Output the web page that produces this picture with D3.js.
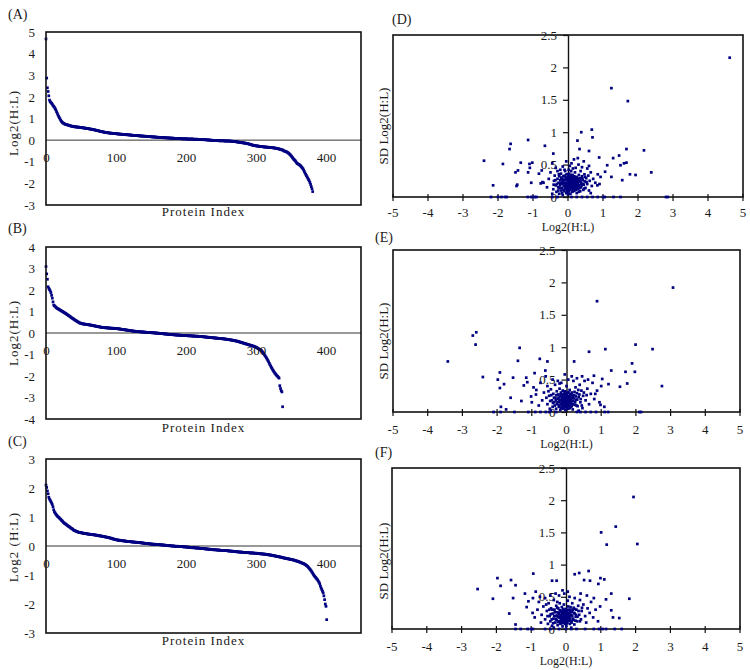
<!DOCTYPE html>
<html><head><meta charset="utf-8">
<script src="https://cdn.jsdelivr.net/npm/d3@7/dist/d3.min.js"></script>
<style>
body{margin:0;background:#fff}
svg{display:block}
</style>
</head><body>
<svg id="chart" width="750" height="670"></svg>
<script>
// ---------------- DATA ----------------
const indexTicks = [0, 100, 200, 300, 400];
const ticksA = [5, 4, 3, 2, 1, 0, -1, -2, -3];
const ticksB = [4, 3, 2, 1, 0, -1, -2, -3, -4];
const ticksC = [3, 2, 1, 0, -1, -2, -3];
const ratioTicks = [-5, -4, -3, -2, -1, 0, 1, 2, 3, 4, 5];
const sdTicks = [0, 0.5, 1, 1.5, 2, 2.5];

const seriesA = [
4.68,2.87,2.42,2.25,2.05,1.85,1.78,1.74,1.70,1.66,
1.60,1.56,1.52,1.46,1.40,1.32,1.25,1.17,1.10,1.04,
0.98,0.92,0.87,0.83,0.80,0.78,0.76,0.74,0.73,0.72,
0.71,0.70,0.69,0.68,0.67,0.66,0.65,0.64,0.64,0.63,
0.62,0.62,0.61,0.61,0.61,0.60,0.60,0.60,0.59,0.59,
0.58,0.58,0.57,0.57,0.56,0.56,0.55,0.55,0.54,0.54,
0.53,0.53,0.52,0.51,0.51,0.50,0.50,0.49,0.48,0.48,
0.47,0.46,0.45,0.45,0.44,0.43,0.42,0.41,0.40,0.40,
0.39,0.38,0.38,0.37,0.36,0.36,0.35,0.35,0.34,0.34,
0.33,0.33,0.32,0.32,0.32,0.31,0.31,0.31,0.30,0.30,
0.30,0.29,0.29,0.29,0.28,0.28,0.28,0.27,0.27,0.27,
0.26,0.26,0.26,0.26,0.25,0.25,0.25,0.25,0.24,0.24,
0.24,0.23,0.23,0.23,0.22,0.22,0.22,0.22,0.21,0.21,
0.21,0.21,0.20,0.20,0.20,0.19,0.19,0.19,0.19,0.18,
0.18,0.18,0.18,0.17,0.17,0.17,0.17,0.16,0.16,0.16,
0.16,0.15,0.15,0.15,0.15,0.14,0.14,0.14,0.14,0.13,
0.13,0.13,0.13,0.12,0.12,0.12,0.12,0.12,0.11,0.11,
0.11,0.11,0.11,0.10,0.10,0.10,0.10,0.10,0.09,0.09,
0.09,0.09,0.09,0.08,0.08,0.08,0.08,0.08,0.07,0.07,
0.07,0.07,0.07,0.07,0.06,0.06,0.06,0.06,0.06,0.06,
0.06,0.06,0.05,0.05,0.05,0.05,0.05,0.05,0.05,0.05,
0.05,0.04,0.04,0.04,0.04,0.04,0.04,0.03,0.03,0.03,
0.03,0.03,0.03,0.02,0.02,0.02,0.02,0.02,0.02,0.01,
0.01,0.01,0.01,0.00,0.00,0.00,0.00,-0.01,-0.01,-0.01,
-0.01,-0.01,-0.02,-0.02,-0.02,-0.02,-0.02,-0.03,-0.03,-0.03,
-0.03,-0.03,-0.03,-0.03,-0.03,-0.04,-0.04,-0.04,-0.04,-0.04,
-0.04,-0.04,-0.04,-0.05,-0.05,-0.05,-0.05,-0.06,-0.06,-0.06,
-0.07,-0.07,-0.08,-0.08,-0.09,-0.09,-0.10,-0.10,-0.11,-0.11,
-0.12,-0.12,-0.13,-0.13,-0.14,-0.14,-0.15,-0.15,-0.16,-0.17,
-0.18,-0.19,-0.20,-0.21,-0.22,-0.23,-0.24,-0.24,-0.25,-0.26,
-0.26,-0.27,-0.27,-0.28,-0.28,-0.29,-0.29,-0.30,-0.30,-0.30,
-0.31,-0.31,-0.32,-0.32,-0.32,-0.32,-0.33,-0.33,-0.33,-0.34,
-0.34,-0.34,-0.35,-0.35,-0.35,-0.36,-0.36,-0.37,-0.37,-0.38,
-0.39,-0.39,-0.40,-0.41,-0.42,-0.43,-0.44,-0.45,-0.46,-0.47,
-0.50,-0.51,-0.52,-0.53,-0.55,-0.57,-0.59,-0.62,-0.65,-0.68,
-0.72,-0.76,-0.80,-0.85,-0.89,-0.92,-0.95,-1.00,-1.05,-1.08,
-1.10,-1.12,-1.14,-1.17,-1.20,-1.24,-1.28,-1.32,-1.38,-1.45,
-1.52,-1.58,-1.64,-1.70,-1.76,-1.82,-1.88,-1.96,-2.05,-2.15,-2.25,-2.38
];

const seriesB = [
3.09,2.75,2.50,2.15,2.08,2.02,1.96,1.88,1.75,1.62,
1.45,1.30,1.27,1.24,1.20,1.17,1.15,1.13,1.11,1.09,
1.07,1.05,1.03,1.01,0.99,0.97,0.95,0.93,0.91,0.89,
0.86,0.84,0.82,0.80,0.77,0.75,0.72,0.70,0.68,0.66,
0.63,0.61,0.59,0.57,0.55,0.53,0.51,0.49,0.47,0.46,
0.45,0.44,0.43,0.42,0.42,0.41,0.41,0.40,0.40,0.39,
0.39,0.38,0.38,0.37,0.37,0.36,0.35,0.35,0.34,0.33,
0.33,0.32,0.31,0.31,0.30,0.29,0.29,0.28,0.27,0.27,
0.26,0.26,0.25,0.25,0.25,0.24,0.24,0.24,0.24,0.23,
0.23,0.23,0.23,0.22,0.22,0.22,0.22,0.22,0.21,0.21,
0.21,0.20,0.20,0.20,0.19,0.19,0.18,0.18,0.17,0.17,
0.16,0.16,0.15,0.15,0.14,0.14,0.13,0.13,0.12,0.12,
0.11,0.11,0.10,0.10,0.09,0.09,0.08,0.08,0.08,0.07,
0.07,0.07,0.06,0.06,0.06,0.05,0.05,0.05,0.05,0.04,
0.04,0.04,0.04,0.03,0.03,0.03,0.03,0.02,0.02,0.02,
0.02,0.01,0.01,0.01,0.01,0.00,0.00,0.00,0.00,-0.01,
-0.01,-0.01,-0.02,-0.02,-0.02,-0.03,-0.03,-0.03,-0.04,-0.04,
-0.04,-0.05,-0.05,-0.05,-0.06,-0.06,-0.06,-0.07,-0.07,-0.07,
-0.07,-0.08,-0.08,-0.08,-0.09,-0.09,-0.09,-0.09,-0.10,-0.10,
-0.10,-0.10,-0.10,-0.11,-0.11,-0.11,-0.11,-0.11,-0.12,-0.12,
-0.12,-0.12,-0.12,-0.13,-0.13,-0.13,-0.13,-0.13,-0.14,-0.14,
-0.14,-0.14,-0.14,-0.15,-0.15,-0.15,-0.15,-0.15,-0.16,-0.16,
-0.16,-0.16,-0.17,-0.17,-0.17,-0.18,-0.18,-0.18,-0.19,-0.19,
-0.19,-0.20,-0.20,-0.20,-0.21,-0.21,-0.21,-0.22,-0.22,-0.22,
-0.23,-0.23,-0.23,-0.24,-0.24,-0.24,-0.25,-0.25,-0.25,-0.26,
-0.26,-0.26,-0.27,-0.27,-0.27,-0.28,-0.28,-0.29,-0.29,-0.30,
-0.30,-0.31,-0.31,-0.32,-0.32,-0.33,-0.33,-0.34,-0.35,-0.35,
-0.36,-0.37,-0.37,-0.38,-0.39,-0.40,-0.41,-0.42,-0.43,-0.44,
-0.45,-0.46,-0.47,-0.48,-0.49,-0.50,-0.51,-0.52,-0.53,-0.54,
-0.55,-0.56,-0.57,-0.58,-0.59,-0.60,-0.61,-0.62,-0.63,-0.65,
-0.66,-0.68,-0.70,-0.72,-0.74,-0.76,-0.78,-0.80,-0.83,-0.87,
-0.91,-0.96,-1.01,-1.06,-1.11,-1.16,-1.22,-1.28,-1.34,-1.41,
-1.48,-1.54,-1.60,-1.66,-1.72,-1.77,-1.82,-1.87,-1.91,-1.95,
-1.99,-2.02,-2.06,-2.10,-2.45,-2.58,-2.68,-2.74,-3.43
];

const seriesC = [
2.10,2.02,1.90,1.80,1.68,1.62,1.58,1.53,1.48,1.43,
1.35,1.25,1.18,1.14,1.10,1.07,1.04,1.01,0.99,0.97,
0.94,0.92,0.89,0.87,0.84,0.81,0.79,0.77,0.76,0.74,
0.72,0.70,0.68,0.67,0.65,0.63,0.61,0.60,0.58,0.56,
0.54,0.53,0.52,0.51,0.50,0.49,0.48,0.47,0.47,0.46,
0.46,0.45,0.45,0.44,0.44,0.43,0.43,0.43,0.42,0.42,
0.41,0.41,0.41,0.40,0.40,0.40,0.39,0.39,0.39,0.38,
0.38,0.38,0.37,0.37,0.36,0.36,0.35,0.35,0.35,0.34,
0.34,0.33,0.33,0.32,0.32,0.31,0.31,0.30,0.30,0.29,
0.29,0.28,0.27,0.27,0.26,0.25,0.24,0.24,0.23,0.22,
0.22,0.21,0.21,0.20,0.20,0.20,0.19,0.19,0.19,0.18,
0.18,0.18,0.17,0.17,0.17,0.16,0.16,0.16,0.15,0.15,
0.15,0.15,0.14,0.14,0.14,0.14,0.13,0.13,0.13,0.13,
0.12,0.12,0.12,0.12,0.12,0.11,0.11,0.11,0.10,0.10,
0.10,0.09,0.09,0.09,0.08,0.08,0.08,0.08,0.07,0.07,
0.07,0.07,0.06,0.06,0.06,0.06,0.06,0.05,0.05,0.05,
0.05,0.05,0.05,0.04,0.04,0.04,0.04,0.03,0.03,0.03,
0.03,0.02,0.02,0.02,0.02,0.01,0.01,0.01,0.01,0.00,
0.00,0.00,0.00,0.00,-0.01,-0.01,-0.01,-0.01,-0.01,-0.01,
-0.02,-0.02,-0.02,-0.02,-0.02,-0.02,-0.03,-0.03,-0.03,-0.03,
-0.03,-0.04,-0.04,-0.04,-0.04,-0.05,-0.05,-0.05,-0.05,-0.06,
-0.06,-0.06,-0.06,-0.06,-0.07,-0.07,-0.07,-0.07,-0.07,-0.08,
-0.08,-0.08,-0.08,-0.09,-0.09,-0.09,-0.09,-0.10,-0.10,-0.10,
-0.10,-0.11,-0.11,-0.11,-0.11,-0.12,-0.12,-0.12,-0.12,-0.13,
-0.13,-0.13,-0.13,-0.13,-0.14,-0.14,-0.14,-0.14,-0.14,-0.15,
-0.15,-0.15,-0.15,-0.15,-0.15,-0.16,-0.16,-0.16,-0.16,-0.16,
-0.17,-0.17,-0.17,-0.17,-0.18,-0.18,-0.18,-0.18,-0.19,-0.19,
-0.19,-0.19,-0.20,-0.20,-0.20,-0.20,-0.21,-0.21,-0.21,-0.21,
-0.21,-0.22,-0.22,-0.22,-0.22,-0.22,-0.23,-0.23,-0.23,-0.23,
-0.23,-0.24,-0.24,-0.24,-0.24,-0.24,-0.24,-0.25,-0.25,-0.25,
-0.25,-0.25,-0.26,-0.26,-0.26,-0.26,-0.27,-0.27,-0.27,-0.27,
-0.28,-0.28,-0.28,-0.28,-0.29,-0.29,-0.29,-0.30,-0.30,-0.31,
-0.31,-0.31,-0.32,-0.32,-0.33,-0.33,-0.34,-0.34,-0.35,-0.35,
-0.36,-0.36,-0.37,-0.37,-0.38,-0.38,-0.39,-0.39,-0.40,-0.41,
-0.41,-0.42,-0.42,-0.43,-0.43,-0.44,-0.44,-0.45,-0.45,-0.46,
-0.46,-0.47,-0.47,-0.48,-0.49,-0.49,-0.50,-0.51,-0.52,-0.52,
-0.53,-0.54,-0.55,-0.56,-0.57,-0.58,-0.59,-0.60,-0.61,-0.62,
-0.64,-0.65,-0.67,-0.69,-0.71,-0.74,-0.77,-0.80,-0.83,-0.86,
-0.90,-0.94,-0.98,-1.02,-1.05,-1.08,-1.11,-1.14,-1.17,-1.21,
-1.25,-1.30,-1.38,-1.45,-1.50,-1.56,-1.62,-1.72,-1.85,-2.00,-2.08,-2.54
];

// [Log2(H:L), SD Log2(H:L)]
const pointsD = [
[4.62,2.15],[1.24,1.68],[1.71,1.48],[0.68,1.04],[0.38,1.00],[0.70,0.92],[0.27,0.87],[-1.14,0.88],
[-1.64,0.82],[-1.67,0.74],[-0.66,0.79],[-0.42,0.67],[0.33,0.74],[0.60,0.71],[1.67,0.74],[2.17,0.72],
[0.89,0.61],[1.29,0.60],[1.46,0.64],[1.50,0.49],[1.67,0.53],[1.60,0.52],[1.12,0.49],[-2.40,0.56],
[-1.86,0.51],[-1.35,0.53],[-1.02,0.53],[-1.10,0.51],[-1.50,0.38],[-1.43,0.41],[-1.14,0.38],[-1.09,0.45],
[-0.75,0.41],[-0.83,0.36],[-2.14,0.18],[-1.45,0.19],[-1.47,0.17],[-1.05,0.22],[-0.78,0.21],[-0.73,0.23],
[1.77,0.35],[1.93,0.34],[2.38,0.38],[1.55,0.26],[1.24,0.31],[1.06,0.39],[0.93,0.31],[0.84,0.18],[0.65,0.06],
[-2.2,0],[-2.0,0],[-1.9,0],[-1.8,0],[-1.75,0],[-1.15,0],[-1.05,0],[-1.0,0],[-0.95,0],[-0.9,0],[-0.45,0],[-0.3,0],
[0.1,0],[0.25,0],[0.4,0],[0.55,0],[0.7,0],[0.85,0],[1.0,0],[1.05,0],[1.3,0],[1.5,0],[2.8,0],[2.85,0],
[-0.45,0.05],[-0.42,0.12],[-0.40,0.25],[-0.38,0.33],[-0.35,0.18],[-0.33,0.08],[-0.30,0.28],[-0.30,0.40],
[-0.28,0.15],[-0.27,0.22],[-0.25,0.05],[-0.25,0.32],[-0.23,0.18],[-0.22,0.26],[-0.20,0.10],[-0.20,0.36],
[-0.18,0.20],[-0.17,0.14],[-0.16,0.28],[-0.15,0.03],[-0.14,0.23],[-0.13,0.32],[-0.12,0.17],[-0.11,0.09],
[-0.10,0.26],[-0.10,0.42],[-0.09,0.20],[-0.08,0.13],[-0.07,0.30],[-0.06,0.22],[-0.05,0.06],[-0.05,0.17],
[-0.04,0.35],[-0.03,0.26],[-0.02,0.12],[-0.02,0.20],[-0.01,0.30],[0.00,0.16],[0.00,0.24],[0.01,0.08],
[0.02,0.19],[0.02,0.28],[0.03,0.36],[0.04,0.14],[0.04,0.22],[0.05,0.11],[0.05,0.26],[0.06,0.18],
[0.06,0.31],[0.07,0.05],[0.07,0.21],[0.08,0.15],[0.08,0.27],[0.09,0.24],[0.09,0.40],[0.10,0.12],
[0.10,0.19],[0.11,0.29],[0.12,0.22],[0.12,0.08],[0.13,0.17],[0.13,0.34],[0.14,0.25],[0.15,0.13],
[0.15,0.20],[0.16,0.30],[0.17,0.23],[0.18,0.10],[0.18,0.17],[0.19,0.27],[0.20,0.21],[0.20,0.38],
[0.21,0.14],[0.22,0.25],[0.23,0.19],[0.24,0.31],[0.25,0.06],[0.25,0.22],[0.26,0.16],[0.27,0.28],
[0.28,0.20],[0.29,0.12],[0.30,0.25],[0.31,0.34],[0.32,0.18],[0.33,0.23],[0.35,0.09],[0.35,0.29],
[0.37,0.15],[0.38,0.21],[0.40,0.32],[0.42,0.26],[0.44,0.11],[0.45,0.19],[0.47,0.35],[0.48,0.24],
[0.50,0.14],[0.52,0.29],[0.55,0.20],[0.58,0.33],[0.60,0.10],[0.62,0.25],[0.65,0.38],[0.68,0.17],
[0.72,0.28],[0.78,0.22],[0.05,0.48],[0.10,0.52],[-0.05,0.55],[0.22,0.45],[0.30,0.50],[0.40,0.46],
[-0.15,0.47],[0.55,0.44],[-0.35,0.45],[0.17,0.58],[0.28,0.60],[0.45,0.55],[0.60,0.48],[-0.55,0.28],
[-0.60,0.15],[-0.50,0.38],[0.85,0.35],[0.90,0.20],[-0.70,0.22],[-0.45,0.52],
[-0.32,0.20],[-0.28,0.10],[-0.26,0.35],[-0.24,0.14],[-0.21,0.22],[-0.19,0.30],[-0.17,0.06],[-0.15,0.25],
[-0.13,0.11],[-0.11,0.21],[-0.09,0.33],[-0.07,0.16],[-0.06,0.27],[-0.04,0.09],[-0.03,0.19],[-0.01,0.14],
[0.01,0.33],[0.02,0.24],[0.03,0.10],[0.04,0.29],[0.06,0.13],[0.07,0.25],[0.08,0.34],[0.09,0.17],
[0.10,0.23],[0.11,0.15],[0.12,0.31],[0.13,0.26],[0.14,0.19],[0.15,0.09],[0.16,0.24],[0.17,0.16],
[0.18,0.32],[0.19,0.21],[0.21,0.27],[0.22,0.11],[0.23,0.23],[0.24,0.17],[0.26,0.30],[0.27,0.13],
[0.28,0.24],[0.30,0.17],[0.31,0.08],[0.33,0.28],[0.34,0.14],[0.36,0.24],[0.39,0.18],[0.41,0.29],
[0.43,0.20],[0.46,0.13],[0.49,0.31],[0.53,0.23],[-0.36,0.26],[-0.41,0.19],[0.00,0.04],[-0.08,0.40],
[0.14,0.44],[0.36,0.40],[-0.22,0.42],[0.02,0.42]
];

const pointsE = [
[3.07,1.92],[0.88,1.71],[1.99,1.04],[2.48,0.97],[1.12,0.97],[0.65,0.93],[-2.70,1.18],[-2.60,1.23],
[-2.62,1.04],[-3.42,0.78],[-1.35,0.99],[-1.40,0.79],[-0.77,0.82],[-0.55,0.78],[0.22,0.78],[1.89,0.75],
[1.97,0.62],[1.70,0.62],[1.29,0.64],[-2.41,0.54],[-1.92,0.61],[-1.98,0.50],[-1.80,0.43],[-1.54,0.53],
[-1.16,0.53],[-1.13,0.46],[-1.23,0.41],[-1.92,0.37],[-1.61,0.22],[-1.30,0.17],[-0.92,0.60],[-0.61,0.64],
[0.79,0.56],[1.03,0.51],[1.21,0.43],[1.75,0.44],[1.54,0.39],[2.75,0.40],[-1.89,0.08],[-1.74,0.04],
[-1.02,0.24],[-0.87,0.34],[0.83,0.28],[1.09,0.08],[0.98,0.11],
[-2.1,0],[-1.9,0],[-1.5,0],[-1.1,0],[-0.9,0],[-0.75,0],[-0.6,0],[-0.5,0],[-0.3,0],[0.3,0],[0.4,0],
[0.55,0],[0.7,0],[0.85,0],[1.1,0],[1.2,0],[2.1,0],[2.15,0],
[-0.55,0.12],[-0.50,0.25],[-0.48,0.05],[-0.45,0.35],[-0.42,0.18],[-0.40,0.08],[-0.38,0.28],[-0.35,0.15],
[-0.33,0.42],[-0.32,0.22],[-0.30,0.05],[-0.28,0.32],[-0.27,0.12],[-0.25,0.20],[-0.24,0.27],[-0.22,0.08],
[-0.21,0.16],[-0.20,0.36],[-0.19,0.24],[-0.18,0.03],[-0.17,0.13],[-0.16,0.30],[-0.15,0.19],[-0.14,0.09],
[-0.13,0.25],[-0.12,0.15],[-0.11,0.33],[-0.10,0.05],[-0.10,0.21],[-0.09,0.12],[-0.08,0.28],[-0.07,0.17],
[-0.06,0.08],[-0.06,0.24],[-0.05,0.14],[-0.04,0.32],[-0.03,0.20],[-0.03,0.03],[-0.02,0.11],[-0.01,0.26],
[0.00,0.17],[0.00,0.07],[0.01,0.22],[0.02,0.13],[0.03,0.30],[0.04,0.19],[0.05,0.05],[0.05,0.25],
[0.06,0.15],[0.07,0.10],[0.08,0.21],[0.09,0.34],[0.10,0.16],[0.11,0.27],[0.12,0.08],[0.13,0.20],
[0.14,0.13],[0.15,0.30],[0.17,0.22],[0.18,0.04],[0.20,0.17],[0.22,0.26],[0.24,0.11],[0.26,0.38],
[0.28,0.19],[0.30,0.29],[0.32,0.09],[0.35,0.23],[0.38,0.42],[0.40,0.15],[0.43,0.33],[0.46,0.06],
[0.48,0.25],[0.52,0.48],[0.55,0.18],[0.60,0.36],[0.65,0.12],[0.70,0.28],[0.75,0.45],[0.80,0.20],
[0.88,0.33],[0.95,0.15],[1.00,0.40],[-0.65,0.30],[-0.70,0.18],[-0.75,0.45],[-0.80,0.10],[-0.88,0.27],
[-0.95,0.38],[-0.15,0.45],[0.05,0.50],[-0.05,0.58],[0.20,0.48],[0.30,0.52],[-0.40,0.50],[-0.60,0.55],
[0.45,0.55],[0.15,0.55],[-0.25,0.48],[-1.00,0.15],[-0.55,0.40],[0.62,0.50],[0.35,0.02],[-0.45,0.02],
[-0.36,0.22],[-0.34,0.10],[-0.31,0.18],[-0.29,0.26],[-0.26,0.15],[-0.23,0.22],[-0.21,0.10],[-0.19,0.18],
[-0.17,0.27],[-0.16,0.06],[-0.14,0.17],[-0.13,0.22],[-0.12,0.10],[-0.11,0.19],[-0.09,0.27],[-0.08,0.07],
[-0.07,0.14],[-0.06,0.20],[-0.05,0.29],[-0.04,0.10],[-0.03,0.16],[-0.02,0.23],[-0.01,0.08],[0.00,0.12],
[0.01,0.28],[0.02,0.18],[0.03,0.09],[0.04,0.14],[0.05,0.21],[0.06,0.30],[0.07,0.18],[0.08,0.12],
[0.09,0.06],[0.10,0.24],[0.11,0.14],[0.12,0.19],[0.14,0.27],[0.15,0.09],[0.16,0.17],[0.18,0.25],
[0.19,0.12],[0.21,0.21],[0.23,0.31],[0.25,0.15],[0.27,0.24],[0.29,0.10],[0.31,0.19],[0.34,0.34],
[0.37,0.27],[0.41,0.20],[-0.44,0.26],[-0.39,0.14],[-0.47,0.17],[-0.52,0.32],[-0.58,0.22],[0.44,0.10],
[0.50,0.30],[0.58,0.26],[-0.20,0.44],[0.00,0.40]
];

const pointsF = [
[1.94,2.05],[1.43,1.59],[1.01,1.50],[1.17,1.31],[2.05,1.32],[0.65,0.90],[0.38,0.87],[0.25,0.85],
[-0.94,0.86],[-1.97,0.79],[-1.58,0.76],[-1.88,0.67],[-1.45,0.68],[-2.54,0.62],[-2.10,0.47],[-1.52,0.48],
[-1.18,0.55],[-0.40,0.75],[-0.27,0.75],[0.99,0.79],[1.10,0.77],[0.93,0.70],[0.69,0.75],[0.52,0.76],
[1.30,0.55],[1.15,0.46],[1.82,0.47],[1.30,0.29],[1.35,0.18],[1.53,0.17],[-1.63,0.24],[-1.45,0.07],
[-0.96,0.25],[-1.08,0.43],[-0.87,0.58],[-1.13,0.34],[-0.75,0.50],
[-1.45,0],[-1.3,0],[-1.1,0],[-1.0,0],[-0.95,0],[-0.6,0],[-0.45,0],[-0.2,0],[0.0,0],[0.15,0],[0.3,0],
[0.55,0],[0.8,0],[0.95,0],[1.05,0],[1.15,0],[1.4,0],[1.6,0],
[-0.60,0.15],[-0.55,0.28],[-0.52,0.08],[-0.50,0.40],[-0.47,0.20],[-0.45,0.12],[-0.43,0.32],[-0.40,0.05],
[-0.38,0.24],[-0.36,0.16],[-0.35,0.45],[-0.33,0.30],[-0.31,0.10],[-0.30,0.20],[-0.28,0.36],[-0.27,0.14],
[-0.25,0.26],[-0.24,0.06],[-0.23,0.19],[-0.22,0.32],[-0.20,0.12],[-0.19,0.23],[-0.18,0.40],[-0.17,0.17],
[-0.16,0.08],[-0.15,0.28],[-0.14,0.20],[-0.13,0.13],[-0.12,0.34],[-0.11,0.24],[-0.10,0.04],[-0.10,0.17],
[-0.09,0.29],[-0.08,0.11],[-0.07,0.21],[-0.06,0.38],[-0.05,0.15],[-0.04,0.26],[-0.03,0.08],[-0.02,0.19],
[-0.01,0.31],[0.00,0.13],[0.00,0.23],[0.01,0.05],[0.02,0.17],[0.03,0.28],[0.04,0.10],[0.05,0.21],
[0.06,0.35],[0.07,0.14],[0.08,0.25],[0.10,0.18],[0.11,0.08],[0.12,0.30],[0.14,0.22],[0.15,0.12],
[0.17,0.27],[0.18,0.40],[0.20,0.16],[0.22,0.33],[0.24,0.07],[0.25,0.24],[0.28,0.19],[0.30,0.30],
[0.32,0.12],[0.35,0.36],[0.38,0.22],[0.40,0.45],[0.43,0.15],[0.45,0.28],[0.50,0.38],[0.55,0.20],
[0.58,0.10],[0.62,0.32],[0.68,0.25],[0.72,0.42],[0.78,0.18],[0.85,0.30],[0.92,0.12],[0.98,0.35],
[-0.65,0.35],[-0.70,0.22],[-0.72,0.10],[-0.78,0.42],[-0.82,0.30],[-0.90,0.18],[-0.95,0.48],[-0.20,0.52],
[-0.05,0.55],[0.10,0.50],[0.25,0.48],[-0.30,0.55],[-0.45,0.52],[0.05,0.58],[0.42,0.55],[-0.60,0.48],
[0.60,0.52],[0.80,0.48],[-0.10,0.60],[0.15,0.02],[-0.35,0.02],
[-0.44,0.23],[-0.41,0.15],[-0.39,0.30],[-0.37,0.09],[-0.34,0.20],[-0.32,0.26],[-0.29,0.15],[-0.26,0.21],
[-0.25,0.33],[-0.23,0.11],[-0.21,0.25],[-0.20,0.18],[-0.18,0.29],[-0.17,0.10],[-0.16,0.21],[-0.14,0.15],
[-0.13,0.27],[-0.12,0.19],[-0.11,0.09],[-0.10,0.23],[-0.09,0.14],[-0.08,0.31],[-0.07,0.17],[-0.06,0.25],
[-0.05,0.10],[-0.04,0.20],[-0.03,0.29],[-0.02,0.13],[-0.01,0.22],[0.00,0.18],[0.01,0.27],[0.02,0.09],
[0.03,0.21],[0.04,0.15],[0.05,0.30],[0.06,0.19],[0.07,0.24],[0.08,0.13],[0.09,0.21],[0.11,0.26],
[0.12,0.16],[0.13,0.34],[0.15,0.22],[0.16,0.10],[0.18,0.20],[0.19,0.30],[0.21,0.14],[0.23,0.25],
[0.26,0.31],[0.27,0.13],[0.29,0.22],[0.33,0.19],[0.36,0.28],[-0.48,0.30],[-0.53,0.20],[-0.57,0.38],
[0.40,0.12],[0.46,0.33],[-0.25,0.42],[0.05,0.44]
];

// ---------------- DRAWING ----------------
const svg = d3.select('#chart');
const NAVY = '#000080';
const SERIF = '"Liberation Serif","DejaVu Serif",serif';
const TXT = '#1a1a1a';
const MK = 2.7;

function label(g, x, y, txt, opts = {}) {
  const t = g.append('text').attr('x', x).attr('y', y).text(txt)
    .attr('font-family', SERIF).attr('font-size', opts.size || 13)
    .attr('fill', TXT).attr('text-anchor', opts.anchor || 'start');
  if (opts.ls) t.attr('letter-spacing', opts.ls);
  if (opts.rotate) t.attr('transform', `rotate(-90,${x},${y})`);
  return t;
}

const leftPanels = [
  {tag: '(A)', data: seriesA, ticks: ticksA, top: 32, bottom: 205, tagY: 19, titleY: 216, yLabel: 'Log2(H:L)', yLabelC: 123},
  {tag: '(B)', data: seriesB, ticks: ticksB, top: 247, bottom: 419, tagY: 233, titleY: 432, yLabel: 'Log2(H:L)', yLabelC: 333},
  {tag: '(C)', data: seriesC, ticks: ticksC, top: 459, bottom: 633, tagY: 446, titleY: 645, yLabel: 'Log2 (H:L)', yLabelC: 547}
];

leftPanels.forEach(p => {
  const g = svg.append('g');
  const x = d3.scaleLinear().domain([0, 450]).range([46, 361]);
  const y = d3.scaleLinear().domain([p.ticks[p.ticks.length - 1], p.ticks[0]]).range([p.bottom, p.top]);

  g.append('line').attr('x1', x(0)).attr('x2', x(450)).attr('y1', y(0)).attr('y2', y(0))
    .attr('stroke', '#333').attr('stroke-width', 1);

  g.selectAll('rect.pt').data(p.data).join('rect').attr('class', 'pt')
    .attr('x', (d, i) => x(i) - MK / 2).attr('y', d => y(d) - MK / 2)
    .attr('width', MK).attr('height', MK).attr('fill', NAVY);

  g.append('rect').attr('x', x(0)).attr('y', p.top).attr('width', x(450) - x(0)).attr('height', p.bottom - p.top)
    .attr('fill', 'none').attr('stroke', '#111').attr('stroke-width', 1.6);

  const ay = g.append('g').attr('transform', `translate(${x(0)},0)`)
    .call(d3.axisLeft(y).tickValues(p.ticks).tickSize(0).tickPadding(11).tickFormat(d => String(d)));
  ay.select('.domain').remove();
  ay.selectAll('text').attr('font-family', SERIF).attr('font-size', 13).attr('fill', TXT);

  const ax = g.append('g').attr('transform', `translate(0,${y(0)})`)
    .call(d3.axisBottom(x).tickValues(indexTicks).tickSize(0).tickPadding(13).tickFormat(d => String(d)));
  ax.select('.domain').remove();
  ax.selectAll('text').attr('font-family', SERIF).attr('font-size', 13).attr('fill', TXT);

  label(g, 8, p.tagY, p.tag, {size: 14});
  label(g, (x(0) + x(450)) / 2, p.titleY, 'Protein Index', {anchor: 'middle', ls: 1});
  label(g, 18, p.yLabelC, p.yLabel, {anchor: 'middle', rotate: true, ls: 1});
});

const rightPanels = [
  {tag: '(D)', data: pointsD, left: 393, right: 743, top: 35, bottom: 197, tagX: 392, tagY: 24, tickY: 217, titleY: 231, yLabelC: 126},
  {tag: '(E)', data: pointsE, left: 393, right: 740, top: 250, bottom: 412, tagX: 375, tagY: 242, tickY: 434, titleY: 448, yLabelC: 341},
  {tag: '(F)', data: pointsF, left: 392, right: 740, top: 468, bottom: 629, tagX: 375, tagY: 457, tickY: 651, titleY: 665, yLabelC: 561}
];

rightPanels.forEach(p => {
  const g = svg.append('g');
  const x = d3.scaleLinear().domain([-5, 5]).range([p.left, p.right]);
  const y = d3.scaleLinear().domain([0, 2.5]).range([p.bottom, p.top]);

  g.append('rect').attr('x', p.left).attr('y', p.top).attr('width', p.right - p.left).attr('height', p.bottom - p.top)
    .attr('fill', 'none').attr('stroke', '#111').attr('stroke-width', 1.6);

  const ay = g.append('g').attr('transform', `translate(${x(0)},0)`)
    .call(d3.axisLeft(y).tickValues(sdTicks).tickSizeInner(5).tickSizeOuter(0).tickPadding(6).tickFormat(d => String(d)));
  ay.select('.domain').attr('stroke', '#111').attr('stroke-width', 1.4);
  ay.selectAll('.tick line').attr('stroke', '#111').attr('stroke-width', 1.2);
  ay.selectAll('text').attr('font-family', SERIF).attr('font-size', 13).attr('fill', TXT);

  g.selectAll('line.xt').data(ratioTicks).join('line').attr('class', 'xt')
    .attr('x1', d => x(d)).attr('x2', d => x(d)).attr('y1', y(0) - 3).attr('y2', y(0) + 4)
    .attr('stroke', '#111').attr('stroke-width', 1.2);
  g.selectAll('text.xl').data(ratioTicks).join('text').attr('class', 'xl')
    .attr('x', d => x(d)).attr('y', p.tickY).attr('text-anchor', 'middle')
    .attr('font-family', SERIF).attr('font-size', 13).attr('fill', TXT)
    .text(d => String(d));

  g.selectAll('rect.pt').data(p.data).join('rect').attr('class', 'pt')
    .attr('x', d => x(d[0]) - MK / 2).attr('y', d => y(d[1]) - MK / 2)
    .attr('width', MK).attr('height', MK).attr('fill', NAVY);

  label(g, p.tagX, p.tagY, p.tag, {size: 14});
  label(g, x(0), p.titleY, 'Log2(H:L)', {anchor: 'middle', size: 12});
  label(g, 388, p.yLabelC, 'SD Log2(H:L)', {anchor: 'middle', rotate: true});
});
</script>
</body></html>
